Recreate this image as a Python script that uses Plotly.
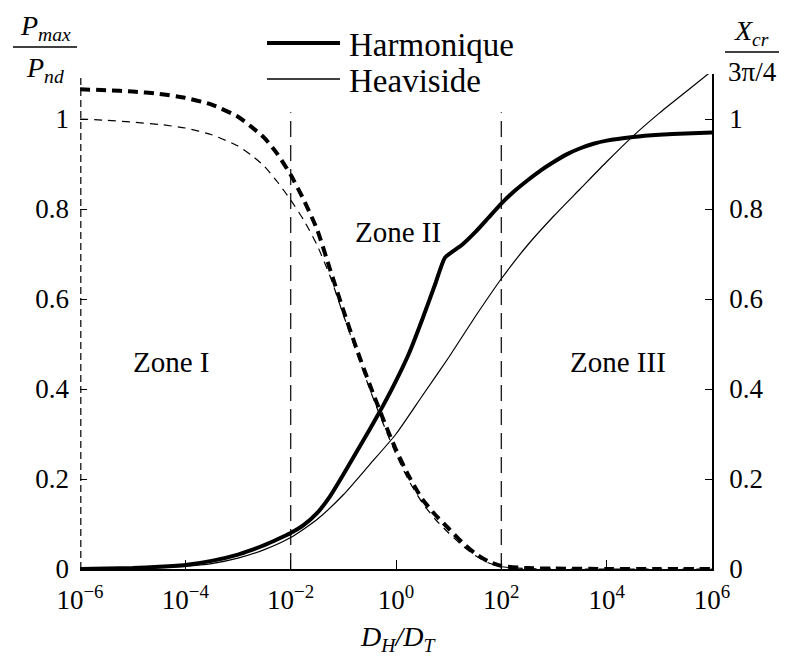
import plotly.graph_objects as go

# ---------------- data ----------------
# x = D_H/D_T, given by decade exponents
exp_p = [-6, -5.5, -5, -4.5, -4, -3.5, -3, -2.75, -2.5, -2.25, -2, -1.75, -1.5, -1.25, -1,
         -0.75, -0.5, -0.25, 0, 0.25, 0.5, 0.75, 1, 1.25, 1.5, 1.75, 2, 2.5, 3, 4, 5, 6]
p_harmonique = [1.066, 1.064, 1.061, 1.056, 1.047, 1.032, 1.005, 0.983, 0.958, 0.922, 0.876,
                0.82, 0.755, 0.665, 0.575, 0.49, 0.41, 0.335, 0.265, 0.205, 0.155, 0.12,
                0.09, 0.06, 0.035, 0.017, 0.007, 0.002, 0.001, 0.0, 0.0, 0.0]
p_heaviside = [1.0, 0.997, 0.993, 0.988, 0.98, 0.965, 0.94, 0.92, 0.895, 0.86, 0.82,
               0.775, 0.72, 0.65, 0.565, 0.482, 0.40, 0.325, 0.255, 0.195, 0.147, 0.11,
               0.08, 0.053, 0.03, 0.014, 0.005, 0.001, 0.0, 0.0, 0.0, 0.0]

exp_xh = [-6, -5.5, -5, -4.5, -4, -3.5, -3, -2.75, -2.5, -2.25, -2, -1.75, -1.5, -1.25, -1,
          -0.75, -0.5, -0.25, 0, 0.25, 0.5, 0.75, 0.93, 1.25, 1.5, 1.75, 2, 2.25, 2.5, 2.75,
          3, 3.25, 3.5, 3.75, 4, 4.5, 5, 5.5, 6]
x_harmonique = [0.0, 0.001, 0.002, 0.005, 0.009, 0.018, 0.032, 0.042, 0.053, 0.066, 0.08,
                0.098, 0.124, 0.162, 0.21, 0.26, 0.31, 0.362, 0.418, 0.48, 0.555, 0.635,
                0.692, 0.72, 0.748, 0.78, 0.812, 0.84, 0.864, 0.886, 0.905, 0.922, 0.935,
                0.945, 0.952, 0.96, 0.965, 0.968, 0.970]

exp_xv = [-6, -5.5, -5, -4.5, -4, -3.5, -3, -2.5, -2, -1.5, -1, -0.5, 0, 0.5, 1, 1.5, 2,
          2.5, 3, 3.5, 4, 4.5, 5, 5.5, 6]
x_heaviside = [0.0, 0.0005, 0.001, 0.003, 0.006, 0.012, 0.024, 0.043, 0.07, 0.11, 0.165,
               0.232, 0.30, 0.385, 0.47, 0.56, 0.645, 0.72, 0.785, 0.845, 0.905, 0.962,
               1.013, 1.06, 1.107]

zone_bounds = [1e-2, 1e2]
zone_top = 1.015
left_bound = 1e-6
y_top = 1.1

x_tickvals = [1e-6, 1e-4, 1e-2, 1e0, 1e2, 1e4, 1e6]
x_ticktext = ["10<sup>\u22126</sup>", "10<sup>\u22124</sup>", "10<sup>\u22122</sup>",
              "10<sup>0</sup>", "10<sup>2</sup>", "10<sup>4</sup>", "10<sup>6</sup>"]
y_tickvals = [0, 0.2, 0.4, 0.6, 0.8, 1]
y_ticktext = ["0", "0.2", "0.4", "0.6", "0.8", "1"]

zones = ["Zone I", "Zone II", "Zone III"]
zone_pos_exp = [-4.27, 0.04, 4.21]
zone_pos_y = [0.46, 0.75, 0.46]

# ---------------- figure ----------------
FONT = "Liberation Serif, Times New Roman, serif"
fig = go.Figure()


def xs(exps):
    return [10 ** e for e in exps]


# reference lines
fig.add_trace(go.Scatter(x=[left_bound, left_bound], y=[0, y_top], mode="lines",
                         line=dict(color="#333", width=3, dash="7px,4px"),
                         showlegend=False, hoverinfo="skip"))
for b in zone_bounds:
    fig.add_trace(go.Scatter(x=[b, b], y=[0, zone_top], mode="lines",
                             line=dict(color="#222", width=1.4, dash="16px,8px"),
                             showlegend=False, hoverinfo="skip"))

# P curves (left axis)
fig.add_trace(go.Scatter(x=xs(exp_p), y=p_heaviside, mode="lines",
                         line=dict(color="black", width=1.2, dash="8px,6px",
                                   shape="spline", smoothing=0.6),
                         showlegend=False))
fig.add_trace(go.Scatter(x=xs(exp_p), y=p_harmonique, mode="lines",
                         line=dict(color="black", width=4, dash="10px,6px",
                                   shape="spline", smoothing=0.6),
                         showlegend=False))
# X curves (right axis)
fig.add_trace(go.Scatter(x=xs(exp_xv), y=x_heaviside, mode="lines",
                         line=dict(color="black", width=1.2, shape="spline", smoothing=0.6),
                         yaxis="y2", showlegend=False))
fig.add_trace(go.Scatter(x=xs(exp_xh), y=x_harmonique, mode="lines",
                         line=dict(color="black", width=4, shape="spline", smoothing=0.5),
                         yaxis="y2", showlegend=False))

tickfont = dict(family=FONT, size=27, color="black")
# page has an 8px body margin: figure is sized/shifted accordingly
fig.update_layout(
    width=781, height=649,
    margin=dict(l=72, r=77, t=66, b=88),
    paper_bgcolor="white", plot_bgcolor="white",
    showlegend=False,
    xaxis=dict(type="log", range=[-6, 6], tickvals=x_tickvals, ticktext=x_ticktext,
               ticks="inside", ticklen=9, tickcolor="black", tickwidth=1.2,
               showline=True, linecolor="black", linewidth=1.5, showgrid=False,
               zeroline=False, tickfont=tickfont, ticklabelstandoff=6),
    yaxis=dict(range=[0, y_top], tickvals=y_tickvals, ticktext=y_ticktext,
               ticks="inside", ticklen=7, tickcolor="black", tickwidth=1.2,
               showline=False, showgrid=False, zeroline=False, tickfont=tickfont,
               ticklabelstandoff=10),
    yaxis2=dict(range=[0, y_top], tickvals=y_tickvals, ticktext=y_ticktext,
                overlaying="y", side="right",
                ticks="inside", ticklen=7, tickcolor="black", tickwidth=1.2,
                showline=True, linecolor="black", linewidth=1.5, showgrid=False,
                zeroline=False, tickfont=tickfont, ticklabelstandoff=10),
)

# zone labels
for name, ex, yy in zip(zones, zone_pos_exp, zone_pos_y):
    fig.add_annotation(x=ex, y=yy, xref="x", yref="y", text=name, showarrow=False,
                       font=dict(family=FONT, size=29, color="black"),
                       xanchor="center", yanchor="middle")


# helpers: page pixel -> paper coords (plot area spans x 80..712, y 74..569 on the page)
def px_x(p):
    return (p - 80) / 632


def px_y(p):
    return (569 - p) / 495


leg = [("Harmonique", 4, 43), ("Heaviside", 1.3, 79)]
for label, w, py in leg:
    fig.add_shape(type="line", xref="paper", yref="paper", x0=px_x(267), x1=px_x(340),
                  y0=px_y(py), y1=px_y(py), line=dict(color="black", width=w))
    fig.add_annotation(xref="paper", yref="paper", x=px_x(347), y=px_y(py + 2),
                       text=label, showarrow=False, xanchor="left", yanchor="middle",
                       font=dict(family=FONT, size=33, color="black"))

# left axis label (fraction)
lab_font = dict(family=FONT, size=28, color="black")
fig.add_shape(type="line", xref="paper", yref="paper", x0=px_x(13), x1=px_x(77),
              y0=px_y(47), y1=px_y(47), line=dict(color="black", width=1.5))
fig.add_annotation(xref="paper", yref="paper", x=px_x(45), y=px_y(47),
                   text="<i>P</i><sub><i>max</i></sub>", showarrow=False,
                   xanchor="center", yanchor="bottom", font=lab_font)
fig.add_annotation(xref="paper", yref="paper", x=px_x(45), y=px_y(50),
                   text="<i>P</i><sub><i>nd</i></sub>", showarrow=False,
                   xanchor="center", yanchor="top", font=lab_font)

# right axis label (fraction)
fig.add_shape(type="line", xref="paper", yref="paper", x0=px_x(725), x1=px_x(779),
              y0=px_y(52), y1=px_y(52), line=dict(color="black", width=1.5))
fig.add_annotation(xref="paper", yref="paper", x=px_x(752), y=px_y(52),
                   text="<i>X</i><sub><i>cr</i></sub>", showarrow=False,
                   xanchor="center", yanchor="bottom", font=lab_font)
fig.add_annotation(xref="paper", yref="paper", x=px_x(753), y=px_y(55),
                   text="3\u03c0/4", showarrow=False,
                   xanchor="center", yanchor="top",
                   font=dict(family=FONT, size=27, color="black"))

# x axis title
fig.add_annotation(xref="paper", yref="paper", x=px_x(398), y=px_y(658),
                   text="<i>D</i><sub><i>H</i></sub><i>/D</i><sub><i>T</i></sub>",
                   showarrow=False, xanchor="center", yanchor="bottom",
                   font=dict(family=FONT, size=28, color="black"))

fig.write_html("out.html")
